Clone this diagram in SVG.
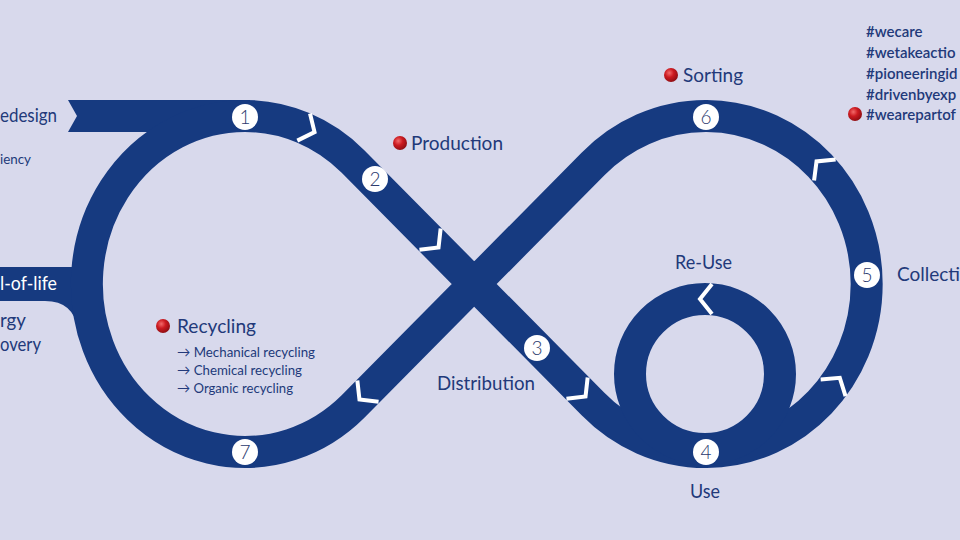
<svg xmlns="http://www.w3.org/2000/svg" xmlns:xlink="http://www.w3.org/1999/xlink" width="960" height="540" viewBox="0 0 960 540">
<style>
.band{fill:none;stroke:#163a80;stroke-width:32;stroke-linejoin:round}
.bandfill{fill:#163a80}
.chev{fill:none;stroke:#ffffff;stroke-width:4;stroke-linejoin:miter}
.nc{fill:#ffffff}
.nt{font-family:Lato,"Noto Sans",sans-serif;font-weight:300;font-size:19px;fill:#2b3a6e;text-anchor:middle}
.lb{font-family:Lato,"Noto Sans",sans-serif;font-size:19.5px;fill:#22397a}
.sm{font-family:Lato,"Noto Sans",sans-serif;font-size:14px;fill:#22397a}
.ht{font-family:Lato,"Noto Sans",sans-serif;font-weight:600;font-size:15px;fill:#22397a}
.wt{font-family:Lato,"Noto Sans",sans-serif;font-size:19.5px;fill:#ffffff}
</style>
<defs>
<radialGradient id="red" cx="0.38" cy="0.35" r="0.7">
<stop offset="0" stop-color="#f26a6a"/>
<stop offset="0.45" stop-color="#cc1a20"/>
<stop offset="1" stop-color="#8a0d12"/>
</radialGradient>
<path id="chev" class="chev" d="M -7,-15 L 5,0 L -7,15"/>
</defs>
<rect width="960" height="540" fill="#d8d9ec"/>
<g id="connectors">
<polygon class="bandfill" points="68,100 77,116 68,132 250,132 250,100"/>
<path class="bandfill" d="M 0,267 H 92 V 330 H 78 Q 74,301 45,301 H 0 Z"/>
<path class="band" d="M 245,116 A 158 168 0 0 1 353,161.5 L 593,404 A 161 168 0 1 0 593,164 L 353,406.5 A 158 168 0 1 1 245,116 Z"/>
<circle class="band" cx="705" cy="374" r="75"/>
<use xlink:href="#chev" transform="translate(310,130) rotate(25)"/>
<use xlink:href="#chev" transform="translate(435,244) rotate(45)"/>
<use xlink:href="#chev" transform="translate(582,393) rotate(45)"/>
<use xlink:href="#chev" transform="translate(705,299) rotate(180)"/>
<use xlink:href="#chev" transform="translate(837,382) rotate(-56)"/>
<use xlink:href="#chev" transform="translate(820,165) rotate(-134)"/>
<use xlink:href="#chev" transform="translate(363,396) rotate(135)"/>
</g>
<g id="node-1"><circle class="nc" cx="245" cy="117" r="13"/><text class="nt" x="245" y="124">1</text></g>
<g id="node-2"><circle class="nc" cx="375" cy="179" r="13"/><text class="nt" x="375" y="186">2</text></g>
<g id="node-3"><circle class="nc" cx="537" cy="348" r="13"/><text class="nt" x="537" y="355">3</text></g>
<g id="node-4"><circle class="nc" cx="706" cy="452" r="13"/><text class="nt" x="706" y="459">4</text></g>
<g id="node-5"><circle class="nc" cx="867" cy="275" r="13"/><text class="nt" x="867" y="282">5</text></g>
<g id="node-6"><circle class="nc" cx="706" cy="117" r="13"/><text class="nt" x="706" y="124">6</text></g>
<g id="node-7"><circle class="nc" cx="245" cy="452" r="13"/><text class="nt" x="245" y="459">7</text></g>
<g id="label-ecodesign">
<text class="lb" x="0" y="122" textLength="57" lengthAdjust="spacingAndGlyphs">edesign</text>
<text class="sm" x="0" y="164" textLength="31" lengthAdjust="spacingAndGlyphs">iency</text>
</g>
<g id="label-endoflife">
<text class="wt" x="0" y="290" textLength="57" lengthAdjust="spacingAndGlyphs">l-of-life</text>
<text class="lb" x="0" y="327" textLength="26" lengthAdjust="spacingAndGlyphs">rgy</text>
<text class="lb" x="0" y="351" textLength="41" lengthAdjust="spacingAndGlyphs">overy</text>
</g>
<g id="label-recycling">
<circle cx="163" cy="326" r="7" fill="url(#red)"/>
<text class="lb" x="177" y="333" textLength="79" lengthAdjust="spacingAndGlyphs">Recycling</text>
<text class="sm" x="177" y="357" textLength="138" lengthAdjust="spacingAndGlyphs">→ Mechanical recycling</text>
<text class="sm" x="177" y="375" textLength="125" lengthAdjust="spacingAndGlyphs">→ Chemical recycling</text>
<text class="sm" x="177" y="393" textLength="116" lengthAdjust="spacingAndGlyphs">→ Organic recycling</text>
</g>
<g id="label-production">
<circle cx="400" cy="143" r="7" fill="url(#red)"/>
<text class="lb" x="411" y="150" textLength="92" lengthAdjust="spacingAndGlyphs">Production</text>
</g>
<g id="label-sorting">
<circle cx="671" cy="75" r="7" fill="url(#red)"/>
<text class="lb" x="683" y="82" textLength="60" lengthAdjust="spacingAndGlyphs">Sorting</text>
</g>
<g id="label-distribution"><text class="lb" x="437" y="390" textLength="98" lengthAdjust="spacingAndGlyphs">Distribution</text></g>
<g id="label-reuse"><text class="lb" x="675" y="269" textLength="57" lengthAdjust="spacingAndGlyphs">Re-Use</text></g>
<g id="label-use"><text class="lb" x="690" y="498" textLength="30" lengthAdjust="spacingAndGlyphs">Use</text></g>
<g id="label-collection"><text class="lb" x="897" y="281" textLength="63" lengthAdjust="spacingAndGlyphs">Collecti</text></g>
<g id="hashtags">
<text class="ht" x="866" y="37">#wecare</text>
<text class="ht" x="866" y="58">#wetakeactio</text>
<text class="ht" x="866" y="79">#pioneeringid</text>
<text class="ht" x="866" y="100">#drivenbyexp</text>
<circle cx="855" cy="114" r="7" fill="url(#red)"/>
<text class="ht" x="866" y="120">#wearepartof</text>
</g>
</svg>
